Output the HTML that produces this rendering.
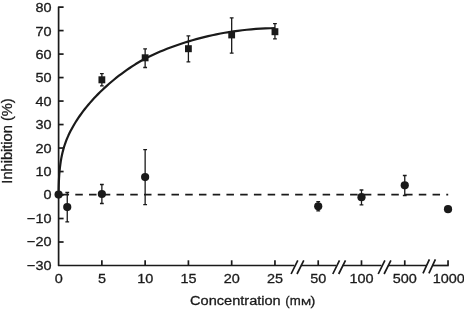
<!DOCTYPE html><html><head><meta charset="utf-8"><title>Inhibition vs concentration</title>
<style>html,body{margin:0;padding:0;background:#fff}svg{display:block}text{font-family:"Liberation Sans",Arial,Helvetica,sans-serif;fill:#1a1a1a}</style></head><body>
<svg width="464" height="309" viewBox="0 0 464 309">
<rect width="464" height="309" fill="#fff"/>
<g stroke="#1a1a1a" stroke-width="1.7" fill="none" stroke-linecap="butt" stroke-linejoin="round">
<path d="M63.6 7.1H58.6V265.5"/>
<path d="M58.6 30.59h5"/>
<path d="M58.6 54.08h5"/>
<path d="M58.6 77.57h5"/>
<path d="M58.6 101.06h5"/>
<path d="M58.6 124.55h5"/>
<path d="M58.6 148.05h5"/>
<path d="M58.6 171.54h5"/>
<path d="M58.6 195.03h5"/>
<path d="M58.6 218.52h5"/>
<path d="M58.6 242.01h5"/>
<path d="M57.90 265.5H294.40"/>
<path d="M300.80 265.5H336.10"/>
<path d="M342.50 265.5H381.50"/>
<path d="M387.90 265.5H426.30"/>
<path d="M432.70 265.5H448.73"/>
<path d="M101.87 265.5v-5.2"/>
<path d="M145.14 265.5v-5.2"/>
<path d="M188.41 265.5v-5.2"/>
<path d="M231.68 265.5v-5.2"/>
<path d="M274.95 265.5v-5.2"/>
<path d="M318.22 265.5v-5.2"/>
<path d="M361.49 265.5v-5.2"/>
<path d="M404.76 265.5v-5.2"/>
<path d="M448.03 265.5v-5.2"/>
<path d="M291.10 274L297.80 260.3M297.00 274L303.80 260.3"/>
<path d="M332.80 274L339.50 260.3M338.70 274L345.50 260.3"/>
<path d="M378.20 274L384.90 260.3M384.10 274L390.90 260.3"/>
<path d="M423.00 273.3L429.40 259.4M428.90 273.3L435.40 259.4"/>
</g>
<g stroke="#1a1a1a" stroke-width="1.6">
<path d="M61.56 194.6H69.06M75.30 194.6H82.80M89.04 194.6H96.54M102.78 194.6H110.28M116.52 194.6H124.02M130.26 194.6H137.76M144.00 194.6H151.50M157.74 194.6H165.24M171.48 194.6H178.98M185.22 194.6H192.72M198.96 194.6H206.46M212.70 194.6H220.20M226.44 194.6H233.94M240.18 194.6H247.68M253.92 194.6H261.42M267.66 194.6H275.16M281.40 194.6H288.90M295.14 194.6H302.64M308.88 194.6H316.38M322.62 194.6H330.12M336.36 194.6H343.86M350.10 194.6H357.60M363.84 194.6H371.34M377.58 194.6H385.08M391.32 194.6H398.82M405.06 194.6H412.56M418.80 194.6H426.30M432.54 194.6H440.04M446.28 194.6H448.20"/>
</g>
<path d="M58.60 194.70L58.63 190.27L58.71 186.03L58.85 181.99L59.04 178.12L59.28 174.42L59.58 170.88L59.94 167.50L60.35 164.25L60.81 161.14L61.33 158.16L61.90 155.28L62.53 152.52L63.22 149.85L63.95 147.27L64.75 144.76L65.59 142.32L66.49 139.95L67.45 137.62L68.46 135.34L69.53 133.08L70.65 130.85L71.82 128.64L73.05 126.43L74.33 124.23L75.67 122.04L77.06 119.85L78.51 117.67L80.01 115.50L81.57 113.34L83.18 111.18L84.85 109.03L86.57 106.88L88.34 104.74L90.17 102.61L92.06 100.48L94.00 98.36L95.99 96.25L98.04 94.14L100.14 92.05L102.30 89.96L104.51 87.89L106.78 85.83L109.10 83.78L111.48 81.75L113.91 79.73L116.40 77.73L118.94 75.74L121.53 73.78L124.18 71.83L126.88 69.91L129.64 68.01L132.46 66.14L135.32 64.31L138.25 62.53L141.22 60.79L144.26 59.12L147.34 57.50L150.48 55.95L153.68 54.44L156.93 52.98L160.23 51.56L163.59 50.17L167.01 48.81L170.48 47.48L174.00 46.18L177.58 44.92L181.21 43.69L184.90 42.49L188.64 41.33L192.44 40.21L196.29 39.12L200.19 38.08L204.15 37.08L208.17 36.13L212.24 35.22L216.36 34.36L220.54 33.54L224.78 32.78L229.06 32.07L233.41 31.41L237.80 30.81L242.26 30.26L246.76 29.77L251.32 29.34L255.94 28.97L260.61 28.66L265.34 28.41L270.12 28.23L274.95 28.12" fill="none" stroke="#1a1a1a" stroke-width="2.2" stroke-linejoin="round"/>
<path d="M101.87 73.60V85.90M99.97 73.60h3.8M99.97 85.90h3.8M145.14 48.80V67.50M143.24 48.80h3.8M143.24 67.50h3.8M188.41 35.80V61.80M186.51 35.80h3.8M186.51 61.80h3.8M231.68 17.80V53.10M229.78 17.80h3.8M229.78 53.10h3.8M274.95 23.70V38.80M273.05 23.70h3.8M273.05 38.80h3.8M67.25 192.50V221.80M65.35 192.50h3.8M65.35 221.80h3.8M101.87 184.50V203.50M99.97 184.50h3.8M99.97 203.50h3.8M145.14 149.70V204.60M143.24 149.70h3.8M143.24 204.60h3.8M318.22 201.70V210.90M316.32 201.70h3.8M316.32 210.90h3.8M361.49 190.00V204.90M359.59 190.00h3.8M359.59 204.90h3.8M404.76 175.50V195.50M402.86 175.50h3.8M402.86 195.50h3.8" fill="none" stroke="#1a1a1a" stroke-width="1.3"/>
<rect x="98.47" y="76.30" width="6.8" height="7" fill="#1a1a1a"/>
<rect x="141.74" y="54.30" width="6.8" height="7" fill="#1a1a1a"/>
<rect x="185.01" y="45.20" width="6.8" height="7" fill="#1a1a1a"/>
<rect x="228.28" y="31.40" width="6.8" height="7" fill="#1a1a1a"/>
<rect x="271.55" y="28.20" width="6.8" height="7" fill="#1a1a1a"/>
<circle cx="58.60" cy="194.60" r="4.1" fill="#1a1a1a"/>
<circle cx="67.25" cy="207.10" r="4.1" fill="#1a1a1a"/>
<circle cx="101.87" cy="194.00" r="4.1" fill="#1a1a1a"/>
<circle cx="145.14" cy="177.10" r="4.1" fill="#1a1a1a"/>
<circle cx="318.22" cy="206.30" r="4.1" fill="#1a1a1a"/>
<circle cx="361.49" cy="197.20" r="4.1" fill="#1a1a1a"/>
<circle cx="404.76" cy="185.30" r="4.1" fill="#1a1a1a"/>
<circle cx="448.03" cy="209.20" r="4.1" fill="#1a1a1a"/>
<g font-size="13.5px" stroke="#1a1a1a" stroke-width="0.3">
<text transform="translate(51.60 12.30) scale(1.07 1)" text-anchor="end">80</text>
<text transform="translate(51.60 35.69) scale(1.07 1)" text-anchor="end">70</text>
<text transform="translate(51.60 59.08) scale(1.07 1)" text-anchor="end">60</text>
<text transform="translate(51.60 82.47) scale(1.07 1)" text-anchor="end">50</text>
<text transform="translate(51.60 105.86) scale(1.07 1)" text-anchor="end">40</text>
<text transform="translate(51.60 129.25) scale(1.07 1)" text-anchor="end">30</text>
<text transform="translate(51.60 152.64) scale(1.07 1)" text-anchor="end">20</text>
<text transform="translate(51.60 176.03) scale(1.07 1)" text-anchor="end">10</text>
<text transform="translate(51.60 199.42) scale(1.07 1)" text-anchor="end">0</text>
<text transform="translate(51.60 222.81) scale(1.07 1)" text-anchor="end">−10</text>
<text transform="translate(51.60 246.20) scale(1.07 1)" text-anchor="end">−20</text>
<text transform="translate(51.60 269.59) scale(1.07 1)" text-anchor="end">−30</text>
<text transform="translate(58.70 283.40) scale(1.07 1)" text-anchor="middle">0</text>
<text transform="translate(101.97 283.40) scale(1.07 1)" text-anchor="middle">5</text>
<text transform="translate(145.24 283.40) scale(1.07 1)" text-anchor="middle">10</text>
<text transform="translate(188.51 283.40) scale(1.07 1)" text-anchor="middle">15</text>
<text transform="translate(231.78 283.40) scale(1.07 1)" text-anchor="middle">20</text>
<text transform="translate(275.05 283.40) scale(1.07 1)" text-anchor="middle">25</text>
<text transform="translate(318.32 283.40) scale(1.07 1)" text-anchor="middle">50</text>
<text transform="translate(361.59 283.40) scale(1.07 1)" text-anchor="middle">100</text>
<text transform="translate(404.86 283.40) scale(1.07 1)" text-anchor="middle">500</text>
<text transform="translate(448.73 283.40) scale(1.07 1)" text-anchor="middle">1000</text>
<text transform="translate(190.1 305.4) scale(1.079 1)">Concentration</text>
<text transform="translate(300.7 305.4) scale(0.98 1)" text-anchor="end">(m</text>
<text transform="translate(300.9 305.4) scale(1.27 1)" font-size="9.6px">M</text>
<text transform="translate(310.6 305.4) scale(1.079 1)">)</text>
<text transform="translate(12.4 141.0) rotate(-90) scale(1.016 1)" font-size="14.4px" text-anchor="middle">Inhibition (%)</text>
</g>
</svg></body></html>
